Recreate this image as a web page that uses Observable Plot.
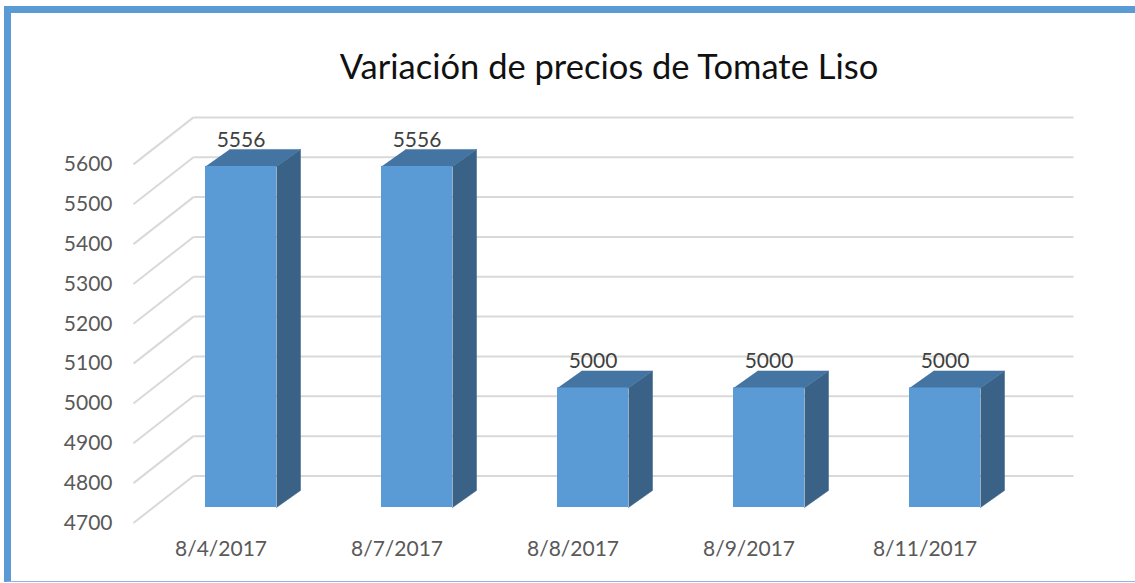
<!DOCTYPE html>
<html>
<head>
<meta charset="utf-8">
<script src="https://cdn.jsdelivr.net/npm/d3@7"></script>
<script src="https://cdn.jsdelivr.net/npm/@observablehq/plot@0.6"></script>
<style>
  body { margin: 0; background: #fff; }
  #wrap { position: relative; width: 1135px; height: 583px; overflow: hidden; font-family: Lato, "Open Sans", sans-serif; background: #fff; }
  #frame { position: absolute; left: 4px; top: 6px; width: 1200px; height: 568px; border-left: 7px solid #5b9bd5; border-top: 7px solid #5b9bd5; border-bottom: 1px solid #8fb6e3; }
  #title { position: absolute; left: 0; top: 49px; width: 1218px; text-align: center; font-size: 34.5px; line-height: 34px; color: #111; }
  #chart { position: absolute; left: 0; top: 95px; }
</style>
</head>
<body>
<div id="wrap">
  <div id="frame"></div>
  <div id="title">Variación de precios de Tomate Liso</div>
  <div id="chart"></div>
</div>
<script>
// ---- data ----
const categories = ["8/4/2017", "8/7/2017", "8/8/2017", "8/9/2017", "8/11/2017"];
const prices = [5556, 5556, 5000, 5000, 5000];
const yTicks = [4700, 4800, 4900, 5000, 5100, 5200, 5300, 5400, 5500, 5600];

// ---- geometry (3D projection helpers) ----
const Y0 = 4700, Y1 = 5600;
const pxPerUnit = 358.6 / 900;        // vertical pixels per price unit
const u = px => px / pxPerUnit;       // pixel offset -> price units
const HW = 0.2017;                    // half bar width (category units)
const DX = 0.1364;                    // bar depth, horizontal (category units)
const DY = u(17);                     // bar depth, vertical (price units)
const FRONT = -u(15.5);               // front edge of the floor/grid
const BACK = u(31.5);                 // back wall
const XF = -0.611, XB0 = -0.270, XB1 = 4.730;

const rows = categories.map((c, i) => ({i, cat: c, v: prices[i]}));
const sideFaces = rows.flatMap(r => [
  {i: r.i, x: r.i + HW, y: Y0},
  {i: r.i, x: r.i + HW + DX, y: Y0 + DY},
  {i: r.i, x: r.i + HW + DX, y: r.v + DY},
  {i: r.i, x: r.i + HW, y: r.v}
]);
const topFaces = rows.flatMap(r => [
  {i: r.i, x: r.i - HW, y: r.v},
  {i: r.i, x: r.i + HW, y: r.v},
  {i: r.i, x: r.i + HW + DX, y: r.v + DY},
  {i: r.i, x: r.i - HW + DX, y: r.v + DY}
]);

const H = 488;
const yBottom = 412;

const chart = Plot.plot({
  width: 1135,
  height: H,
  marginLeft: 120,
  marginBottom: H - yBottom,
  marginTop: 0,
  marginRight: 0,
  style: {fontFamily: "Lato, 'Open Sans', sans-serif", color: "#595959", background: "transparent", overflow: "visible"},
  x: {type: "linear", domain: [-1, 5], range: [64.5, 1120.5], axis: null},
  y: {domain: [Y0, Y1], range: [yBottom, yBottom - 358.6], axis: null},
  marks: [
    // grid: floor diagonals and back wall lines
    Plot.link(yTicks, {x1: XF, y1: d => d + FRONT, x2: XB0, y2: d => d + BACK, stroke: "#d9d9d9", strokeWidth: 2}),
    Plot.link(yTicks, {x1: XB0, y1: d => d + BACK, x2: XB1, y2: d => d + BACK, stroke: "#d9d9d9", strokeWidth: 2}),
    // bars
    Plot.line(sideFaces, {x: "x", y: "y", z: "i", fill: "#3a6287", stroke: "#3a6287", strokeWidth: 0.5}),
    Plot.line(topFaces, {x: "x", y: "y", z: "i", fill: "#4474a1", stroke: "#4474a1", strokeWidth: 0.5}),
    Plot.rectY(rows, {x1: d => d.i - HW, x2: d => d.i + HW, y1: Y0, y2: "v", fill: "#5b9bd5"}),
    // value labels
    Plot.text(rows, {x: "i", y: "v", text: d => String(d.v), dy: -26.5, fontSize: 21, fill: "#404040"}),
    // axes
    Plot.axisY(yTicks, {anchor: "left", tickSize: 0, tickPadding: 8, dy: 15.5, fontSize: 21, tickFormat: d => String(d)}),
    Plot.axisX(d3.range(categories.length), {anchor: "bottom", tickSize: 0, tickPadding: 34, dx: -20, fontSize: 21, tickFormat: i => categories[i]})
  ]
});
document.getElementById("chart").appendChild(chart);
</script>
</body>
</html>
